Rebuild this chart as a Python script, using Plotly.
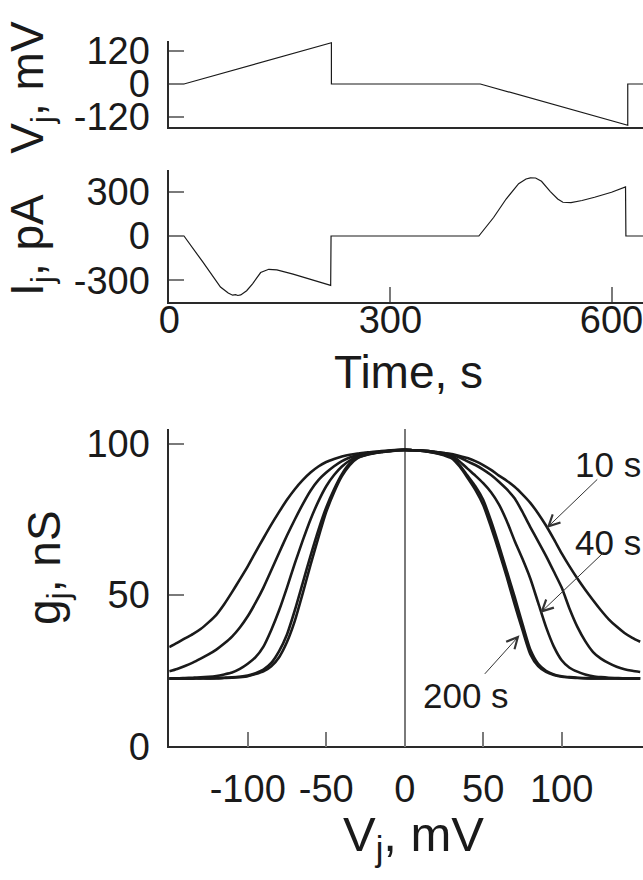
import plotly.graph_objects as go

# ---------------- data ----------------
# Top panel: junctional voltage protocol
time_vj_s = [0, 20, 220, 220, 422, 622, 622, 643]
vj_mv = [0, 0, 150, 0, 0, -150, 0, 0]

# Middle panel: junctional current
time_ij_s = [0, 20, 45, 69.5, 80, 86, 90, 93, 97, 105, 113, 124, 135, 146, 168, 195, 219, 219.5,
             420, 440, 457, 474, 484, 490, 497, 505, 517, 527, 534, 545, 560, 577, 600, 619, 619.5, 643]
ij_pa = [0, 0, -172, -345, -385, -400, -396, -402, -398, -370, -323, -247, -225, -229, -258, -296, -334, 0,
         0, 125, 250, 354, 385, 393, 392, 370, 300, 250, 228, 226, 240, 262, 296, 332, 0, 0]

# Bottom panel: gj-Vj relations at different ramp durations
vj_grid_mv = [-150, -145, -140, -135, -130, -125, -120, -115, -110, -105, -100, -95, -90, -85, -80,
              -75, -70, -65, -60, -55, -50, -45, -40, -35, -30, -25, -20, -15, -10, -5, 0,
              5, 10, 15, 20, 25, 30, 35, 40, 45, 50, 55, 60, 65, 70, 75, 80, 85, 90, 95, 100,
              105, 110, 115, 120, 125, 130, 135, 140, 145, 150]

gj_10s = [32.8, 34.2, 35.7, 37.1, 38.8, 41.0, 43.5, 47.0, 51.0, 55.2, 59.5, 64.2, 68.8, 73.3, 77.5,
          81.5, 85.0, 88.0, 90.5, 92.5, 94.0, 95.0, 95.8, 96.4, 96.8, 97.1, 97.4, 97.6, 97.8, 98.0, 98.0,
          97.9, 97.8, 97.6, 97.3, 97.0, 96.6, 96.0, 95.3, 94.3, 93.0, 91.4, 89.5, 87.8, 85.8, 83.3, 80.5,
          77.0, 73.0, 68.5, 63.8, 59.5, 55.5, 51.8, 48.3, 45.0, 42.0, 39.6, 37.5, 35.9, 34.6]

gj_20s = [24.8, 25.6, 26.6, 27.7, 29.0, 30.4, 32.0, 34.0, 36.3, 39.3, 43.0, 47.5, 52.5, 58.2, 64.0,
          69.7, 75.0, 80.0, 84.5, 88.0, 90.5, 92.6, 94.3, 95.5, 96.3, 96.8, 97.2, 97.5, 97.7, 97.9, 98.0,
          97.9, 97.8, 97.6, 97.3, 97.0, 96.5, 95.5, 94.2, 93.0, 91.5, 89.7, 87.5, 85.0, 82.0, 77.5, 72.5,
          67.8, 63.0, 57.8, 52.5, 45.5, 39.5, 34.8, 31.2, 29.0, 27.5, 26.3, 25.5, 25.0, 24.6]

gj_40s = [22.5, 22.5, 22.6, 22.7, 22.8, 23.0, 23.3, 23.8, 24.4, 25.6, 27.3, 29.5, 33.0, 38.5, 45.0,
          52.5, 60.5, 68.0, 75.0, 81.0, 86.0, 89.7, 92.5, 94.5, 95.8, 96.5, 97.0, 97.4, 97.6, 97.9, 98.0,
          97.9, 97.8, 97.6, 97.2, 96.7, 96.0, 94.2, 91.8, 89.5, 87.0, 84.0, 80.0, 74.5, 68.0, 62.0, 55.5,
          47.5, 39.5, 33.0, 28.5, 26.0, 24.7, 23.8, 23.2, 22.9, 22.7, 22.6, 22.5, 22.5, 22.5]

gj_100s = [22.4, 22.4, 22.4, 22.5, 22.5, 22.5, 22.6, 22.7, 22.8, 23.0, 23.4, 24.2, 25.4, 27.6, 31.5,
           37.0, 45.0, 54.0, 63.0, 71.5, 79.0, 85.0, 90.0, 93.5, 95.5, 96.3, 96.9, 97.3, 97.6, 97.9, 98.0,
           97.9, 97.7, 97.4, 97.0, 96.4, 95.5, 93.0, 89.5, 86.0, 81.5, 74.5, 66.5, 58.0, 49.5, 40.5, 32.0,
           27.3, 25.0, 23.8, 23.2, 22.9, 22.7, 22.6, 22.5, 22.5, 22.5, 22.5, 22.5, 22.5, 22.5]

gj_200s = [22.4, 22.4, 22.4, 22.4, 22.5, 22.5, 22.5, 22.6, 22.7, 22.9, 23.2, 23.9, 24.8, 26.5, 29.5,
           34.5, 41.5, 50.5, 60.0, 69.0, 77.5, 84.0, 89.3, 93.0, 95.3, 96.2, 96.8, 97.2, 97.6, 97.8, 98.0,
           97.9, 97.7, 97.4, 96.9, 96.2, 95.2, 92.5, 88.8, 84.8, 79.8, 72.5, 64.5, 56.0, 47.0, 38.5, 30.5,
           26.5, 24.6, 23.6, 23.0, 22.8, 22.6, 22.5, 22.5, 22.5, 22.5, 22.5, 22.5, 22.5, 22.5]

gj_series = [("10 s", gj_10s), ("20 s", gj_20s), ("40 s", gj_40s), ("100 s", gj_100s), ("200 s", gj_200s)]

vj_ticks = [-120, 0, 120]
vj_ticklabels = ["-120", "0", "120"]
ij_ticks = [-300, 0, 300]
ij_ticklabels = ["-300", "0", "300"]
time_ticks = [0, 300, 600]
time_ticklabels = ["0", "300", "600"]
gvj_ticks = [-100, -50, 0, 50, 100]
gvj_ticklabels = ["-100", "-50", "0", "50", "100"]
gj_ticks = [0, 50, 100]
gj_ticklabels = ["0", "50", "100"]

# ---------------- figure ----------------
W, H = 643, 880
FONT = "Liberation Sans, Arial, sans-serif"
INK = "#1a1a1a"
AXC = "#2a2a2a"
TICKC = "#7a7a7a"

def px_x(p):
    return p / W

def px_y(p):
    return 1 - p / H

xdom = [px_x(161), 1.0]

fig = go.Figure()
fig.add_trace(go.Scatter(x=time_vj_s, y=vj_mv, mode="lines", line=dict(color=INK, width=1.2),
                         xaxis="x", yaxis="y", showlegend=False, hoverinfo="skip"))
fig.add_trace(go.Scatter(x=time_ij_s, y=ij_pa, mode="lines", line=dict(color=INK, width=1.2),
                         xaxis="x2", yaxis="y2", showlegend=False, hoverinfo="skip"))
for name, g in gj_series:
    fig.add_trace(go.Scatter(x=vj_grid_mv, y=g, mode="lines", name=name,
                             line=dict(color=INK, width=2.6, shape="spline", smoothing=0.6),
                             xaxis="x3", yaxis="y3", showlegend=False, hoverinfo="skip"))

tickfont = dict(family=FONT, size=38, color=INK)
common = dict(showgrid=False, zeroline=False, showline=True, linecolor=AXC, linewidth=1.5,
              ticks="inside", ticklen=15, tickwidth=1.5, tickcolor=TICKC, tickfont=tickfont,
              fixedrange=True, tickmode="array", ticklabeloverflow="allow")

fig.update_layout(
    width=W, height=H,
    margin=dict(l=0, r=0, t=0, b=0),
    paper_bgcolor="white", plot_bgcolor="white",
    font=dict(family=FONT, color=INK),
    xaxis=dict(common, domain=xdom, anchor="y", range=[0, 642.7], ticks="", showticklabels=False),
    yaxis=dict(common, domain=[px_y(121.7), px_y(31.7)], anchor="x", range=[-158, 158],
               tickvals=vj_ticks, ticktext=vj_ticklabels, ticklabelstandoff=10),
    xaxis2=dict(common, domain=xdom, anchor="y2", range=[0, 642.7], tickvals=time_ticks,
                ticktext=time_ticklabels, ticklabelstandoff=-16),
    yaxis2=dict(common, domain=[px_y(302.5), px_y(166)], anchor="x2", range=[-445, 445],
                tickvals=ij_ticks, ticktext=ij_ticklabels, ticklabelstandoff=10),
    xaxis3=dict(common, domain=xdom, anchor="y3", range=[-150, 151.8], tickvals=gvj_ticks,
                ticktext=gvj_ticklabels,
                zeroline=True, zerolinecolor=TICKC, zerolinewidth=1.5, ticklabelstandoff=8),
    yaxis3=dict(common, domain=[px_y(763.3), px_y(434)], anchor="x3", range=[0, 105],
                tickvals=gj_ticks, ticktext=gj_ticklabels, ticklabelstandoff=10),
)

title_font = dict(family=FONT, size=46, color=INK)
ann = []
# axis titles
ann.append(dict(text="V<sub>j</sub>, mV", xref="paper", yref="paper", x=px_x(20), y=px_y(80),
                textangle=-90, showarrow=False, font=title_font, xanchor="center", yanchor="middle"))
ann.append(dict(text="I<sub>j</sub>, pA", xref="paper", yref="paper", x=px_x(20), y=px_y(244),
                textangle=-90, showarrow=False, font=title_font, xanchor="center", yanchor="middle"))
ann.append(dict(text="g<sub>j</sub>, nS", xref="paper", yref="paper", x=px_x(37), y=px_y(578),
                textangle=-90, showarrow=False, font=title_font, xanchor="center", yanchor="middle"))
ann.append(dict(text="Time, s", xref="paper", yref="paper", x=px_x(404), y=px_y(375),
                showarrow=False, font=title_font, xanchor="center", yanchor="middle"))
ann.append(dict(text="V<sub>j</sub>, mV", xref="paper", yref="paper", x=px_x(410), y=px_y(858),
                showarrow=False, font=dict(title_font, size=49), xanchor="center", yanchor="middle"))

# curve labels and arrows
lab_font = dict(family=FONT, size=35, color=INK)
ann.append(dict(text="10 s", xref="paper", yref="paper", x=px_x(607), y=px_y(471),
                showarrow=False, font=lab_font, xanchor="center", yanchor="middle"))
ann.append(dict(text="40 s", xref="paper", yref="paper", x=px_x(607), y=px_y(552),
                showarrow=False, font=lab_font, xanchor="center", yanchor="middle"))
ann.append(dict(text="200 s", xref="paper", yref="paper", x=px_x(463), y=px_y(711),
                showarrow=False, font=lab_font, xanchor="center", yanchor="middle"))

arrow_style = dict(showarrow=True, arrowhead=5, arrowsize=2.2, arrowwidth=1, arrowcolor="#333333",
                   text="", xref="x3", yref="y3", standoff=0)
ann.append(dict(arrow_style, x=90.5, y=72.2, ax=52, ay=-50))
ann.append(dict(arrow_style, x=86.3, y=44.1, ax=65, ay=-62))
ann.append(dict(arrow_style, x=73.1, y=36.7, ax=-36, ay=40))

fig.update_layout(annotations=ann)

post = ("document.documentElement.style.margin='0';document.documentElement.style.padding='0';"
        "document.documentElement.style.overflow='hidden';"
        "document.body.style.margin='0';document.body.style.padding='0';"
        "document.body.style.overflow='hidden';")
fig.write_html("out.html", post_script=post, config={"displayModeBar": False})
